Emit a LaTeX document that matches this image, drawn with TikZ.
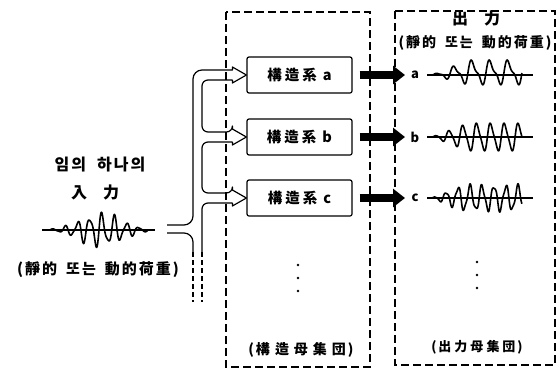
\documentclass[tikz,border=0pt]{standalone}
\usepackage{fontspec}
\setmainfont{Noto Sans CJK KR}
\usetikzlibrary{arrows.meta,calc}
\newcommand{\gp}{\hspace{3pt}}
\newcommand{\gq}{\hspace{5pt}}
\newcommand{\gs}{\hspace{2pt}}
\tikzset{
  grp/.style={draw, line width=1.2pt, dash pattern=on 8pt off 4pt},
  sbox/.style={draw, line width=1.2pt, rounded corners=2pt, minimum width=105pt, minimum height=36pt, inner sep=0pt, font=\fontsize{14.5}{16}\selectfont\bfseries},
  pipe/.style={line width=1.2pt, line join=round},
  pipedash/.style={line width=1.2pt, dash pattern=on 5pt off 3pt},
  blk/.style={line width=8pt, shorten <=7pt, -{Triangle[length=12pt,width=18pt]}},
  lbl/.style={inner sep=0pt, font=\fontsize{16}{18}\selectfont\bfseries},
  slbl/.style={inner sep=0pt, font=\fontsize{15}{17}\selectfont\bfseries},
  rlbl/.style={inner sep=0pt, font=\fontsize{14}{16}\selectfont\bfseries},
  blbl/.style={inner sep=0pt, font=\fontsize{14}{16}\selectfont\bfseries},
  olbl/.style={inner sep=0pt, font=\fontsize{13}{15}\selectfont\bfseries},
  wv/.style={line width=1.6pt, line join=round},
  base/.style={line width=1.3pt},
  dot/.style={fill, circle, inner sep=0pt, minimum size=2.6pt},
}
\begin{document}
\begin{tikzpicture}[x=1pt,y=-1pt]
\useasboundingbox (0,0) rectangle (560,370);
% groups
\draw[grp] (226,12) rectangle (370,367);
\draw[grp] (395,11) rectangle (555,365);
% boxes
\node[sbox] (ba) at (299.5,75) {構\gp 造\gp 系\hspace{6pt}a};
\node[sbox] (bb) at (299.5,137) {構\gp 造\gp 系\hspace{6pt}b};
\node[sbox] (bc) at (299.5,198) {構\gp 造\gp 系\hspace{6pt}c};
% pipe
\coordinate (inU) at (167,225);
\coordinate (inL) at (167,233);
\coordinate (endO) at (193,252);
\coordinate (endI) at (202,252);
\draw[pipe] (ba.west) -- ++(-14,-8) -- ++(0,3) [rounded corners=9pt] -- (193,70) -- (193,225) -- (inU);
\draw[pipe] (inL) [rounded corners=9pt] -- (193,233) -- (endO);
\draw[pipe] (ba.west) -- ++(-14,8) -- ++(0,-3) [rounded corners=6pt] -- (202,80) -- (202,132) -- ($(bb.west)+(-14,-5)$) [sharp corners] -- ++(0,-3) -- (bb.west);
\draw[pipe] (bb.west) -- ++(-14,8) -- ++(0,-3) [rounded corners=6pt] -- (202,142) -- (202,193) -- ($(bc.west)+(-14,-5)$) [sharp corners] -- ++(0,-3) -- (bc.west);
\draw[pipe] (bc.west) -- ++(-14,8) -- ++(0,-3) [rounded corners=6pt] -- (202,203) -- (endI);
\draw[pipedash] (endO) -- ++(0,50);
\draw[pipedash] (endI) -- ++(0,50);
% outputs
\node[olbl] (la) at (415,75) {a};
\node[olbl] (lb) at (415,137) {b};
\node[olbl] (lc) at (415,198) {c};
\coordinate (ta) at (405,75);
\coordinate (tb) at (405,137);
\coordinate (tc) at (405,198);
\draw[blk] (ba.east) -- (ta);
\draw[blk] (bb.east) -- (tb);
\draw[blk] (bc.east) -- (tc);
% texts
\node[lbl] (t1) at (100,165) {임\gs 의\hspace{11pt}하\gs 나\gs 의};
\node[lbl] (t2) at (95,192) {入\hspace{16pt}力};
\node[slbl] (t3) at (98,270) {(\gs 靜\gs 的\hspace{9pt}또\gs 는\hspace{9pt}動\gs 的\gs 荷\gs 重\gs )};
\node[lbl] (t4) at (476,18) {出\hspace{16pt}力};
\node[rlbl] (t5) at (475,43) {(\gs 靜\gs 的\hspace{9pt}또\gs 는\hspace{9pt}動\gs 的\gs 荷\gs 重\gs )};
\node[blbl] (t6) at (301,350) {(\gs 構\gq 造\gq 母\gq 集\gq 団\gs )};
\node[olbl] (t7) at (477,347) {(\gs 出\gp 力\gp 母\gp 集\gp 団\gs )};
% dots
\foreach \yy in {265,278,291} \node[dot] at (298,\yy) {};
\foreach \yy in {262,275,288} \node[dot] at (477,\yy) {};
% input wave
\draw[base] (42,230) -- (155,230);
\draw[wv] plot[domain=0:1,samples=200,smooth] ({50+98*\x},{230-15*exp(-((\x-0.52)/0.3)^2)*(sin(8*360*\x)+0.3*sin(14*360*\x))});
% output waves
\draw[base] (427,75) -- (533,75);
\draw[wv] plot[domain=0:1,samples=200,smooth] ({432+90*\x},{75-13*min(1,2.5*\x)*(0.8*sin(5*360*\x)+0.3*sin(10*360*\x)+0.2)});
\draw[base] (427,137) -- (533,137);
\draw[wv] plot[domain=0:1,samples=200,smooth] ({432+90*\x},{137-13*min(1,2.5*\x)*(sin(6.5*360*\x)+0.2*sin(13*360*\x))});
\draw[base] (427,198) -- (533,198);
\draw[wv] plot[domain=0:1,samples=200,smooth] ({432+90*\x},{198-12*min(1,3*\x)*(sin(7.5*360*\x+30)+0.2*sin(17*360*\x))});
\end{tikzpicture}
\end{document}
